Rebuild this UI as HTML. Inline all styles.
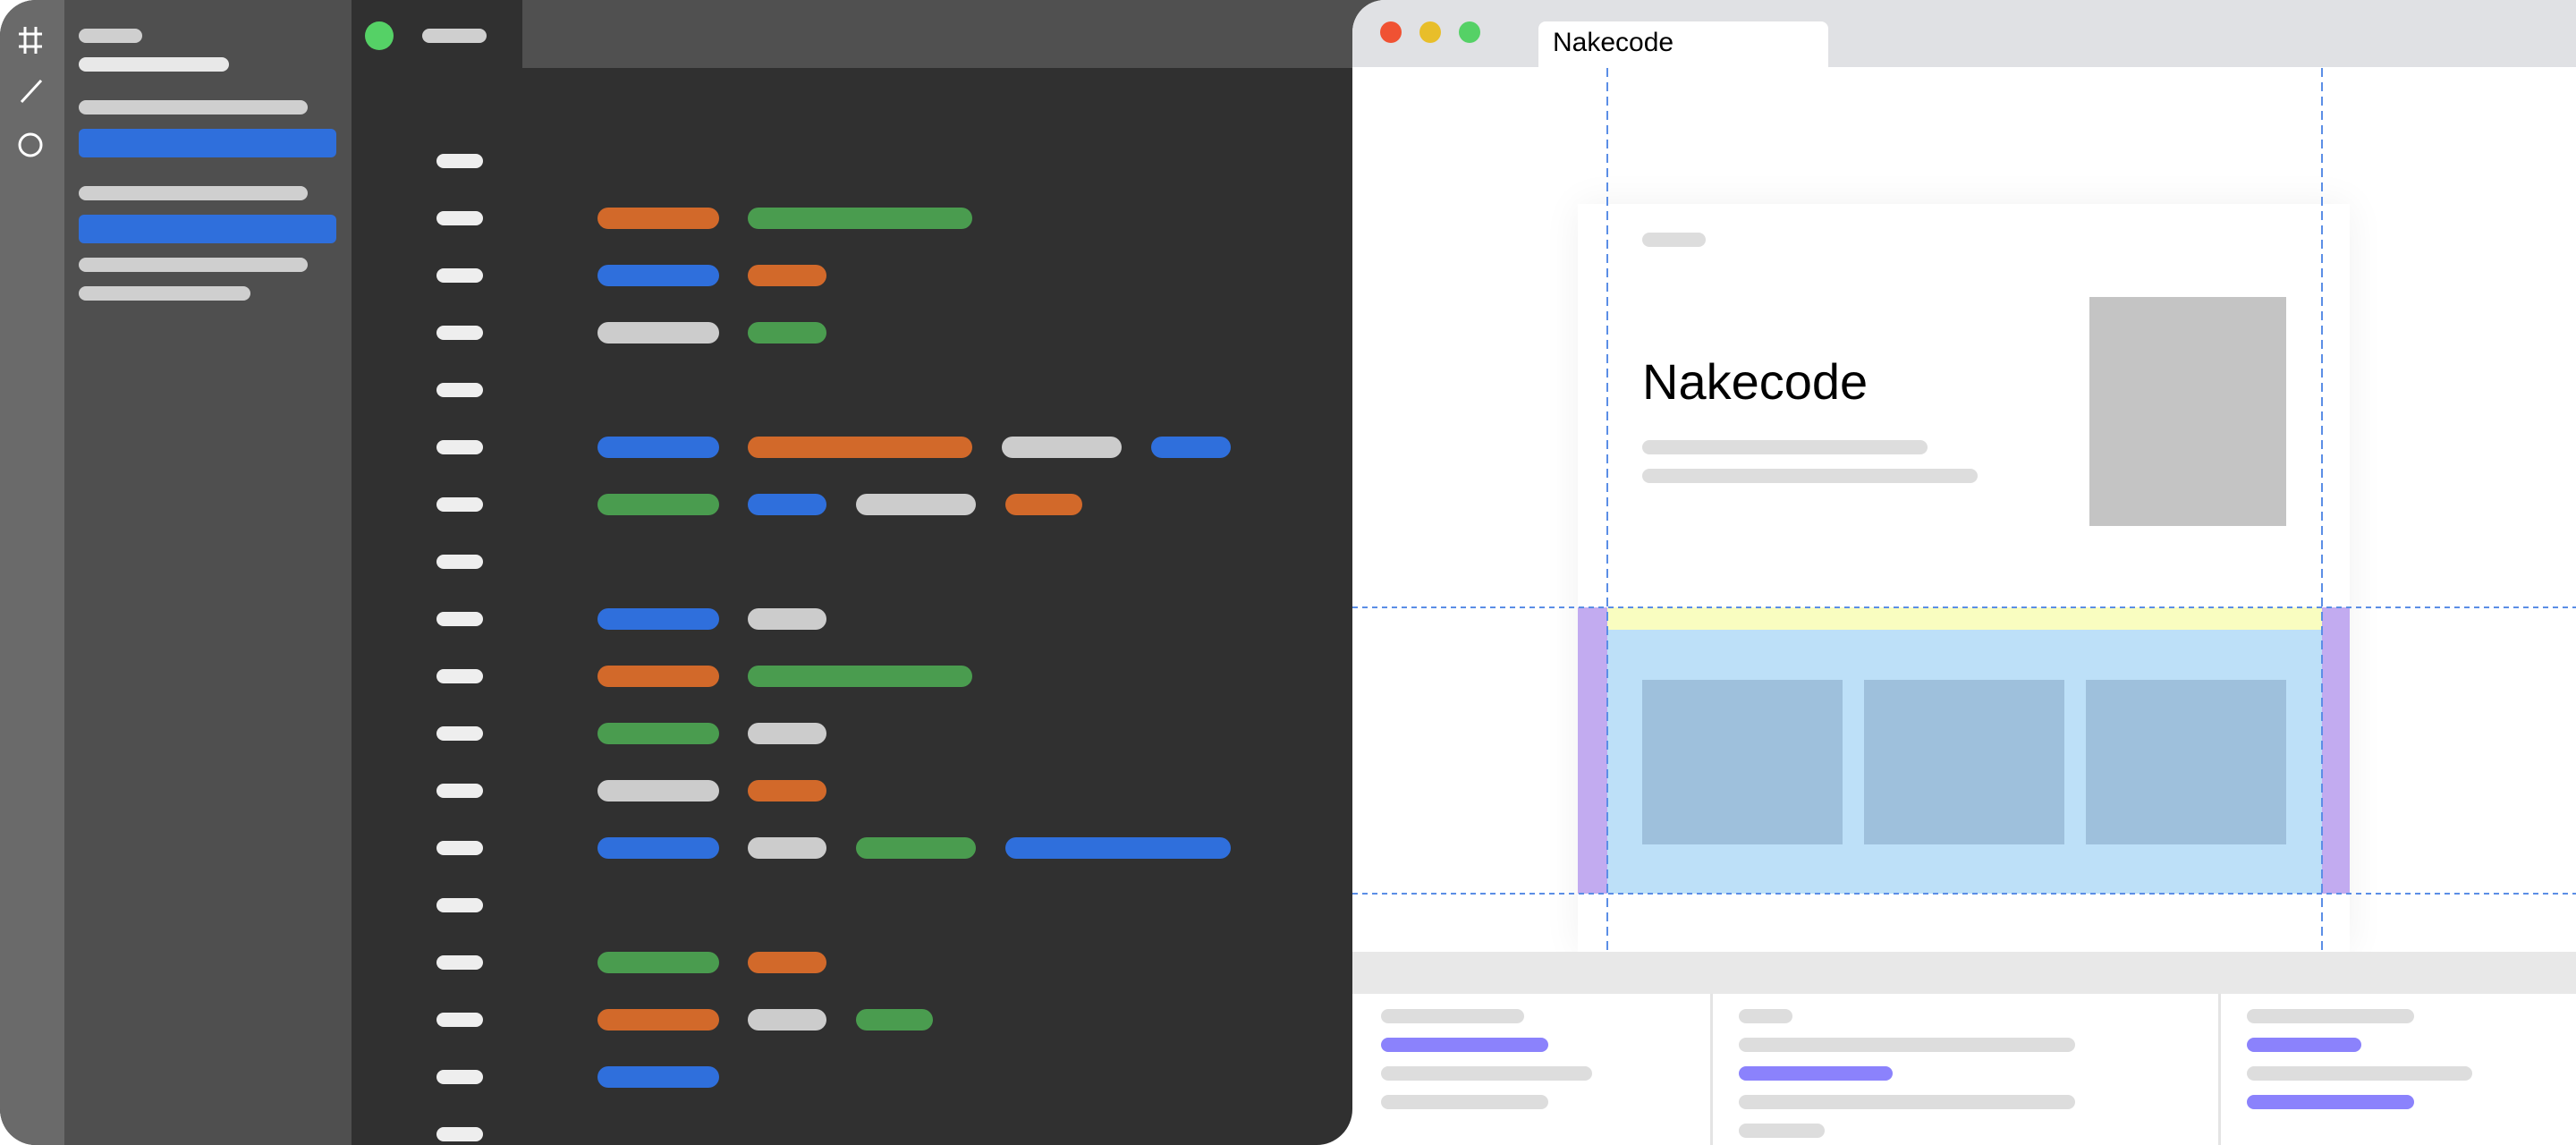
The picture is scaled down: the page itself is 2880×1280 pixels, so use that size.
<!DOCTYPE html>
<html><head><meta charset="utf-8"><style>
*{margin:0;padding:0;box-sizing:border-box}
body{width:2880px;height:1280px;position:relative;overflow:hidden;background:#fff;font-family:"Liberation Sans",sans-serif}
div{position:absolute}
.p{height:16px;border-radius:8px}
.t{height:24px;border-radius:12px}
.ln{left:488px;width:52px;height:16px;border-radius:8px;background:#eee}
.o{background:#d2692a}.g{background:#4a9c4f}.b{background:#2f6fdc}.y{background:#cccccc}
.q{background:#dddddd}.v{background:#8b82fc}
</style></head><body>
<!-- left editor -->
<div style="left:1500px;top:0;width:60px;height:40px;background:#505050"></div>
<div style="left:0;top:0;width:1512px;height:1280px;background:#303030;border-radius:40px 0 40px 40px;overflow:hidden">
  <div style="left:0;top:0;width:72px;height:1280px;background:#6a6a6a"></div>
  <div style="left:72px;top:0;width:321px;height:1280px;background:#4f4f4f"></div>
  <div style="left:584px;top:0;width:1000px;height:76px;background:#505050"></div>
</div>
<!-- icons -->
<svg style="position:absolute;left:0;top:0" width="72" height="200">
  <g stroke="#fff" stroke-width="3" fill="none">
    <line x1="28" y1="30" x2="28" y2="60"/><line x1="40" y1="30" x2="40" y2="60"/>
    <line x1="21" y1="38" x2="47" y2="38"/><line x1="21" y1="52" x2="47" y2="52"/>
    <line x1="24" y1="114" x2="46" y2="90"/>
    <circle cx="34" cy="162" r="12"/>
  </g>
</svg>
<div class="p" style="left:88px;top:32px;width:71px;background:#cfcfcf"></div>
<div class="p" style="left:88px;top:64px;width:168px;background:#e8e8e8"></div>
<div class="p" style="left:88px;top:112px;width:256px;background:#cfcfcf"></div>
<div style="left:88px;top:144px;width:288px;height:32px;border-radius:6px;background:#2f6fdc"></div>
<div class="p" style="left:88px;top:208px;width:256px;background:#cfcfcf"></div>
<div style="left:88px;top:240px;width:288px;height:32px;border-radius:6px;background:#2f6fdc"></div>
<div class="p" style="left:88px;top:288px;width:256px;background:#cfcfcf"></div>
<div class="p" style="left:88px;top:320px;width:192px;background:#cfcfcf"></div>
<div style="left:408px;top:24px;width:32px;height:32px;border-radius:50%;background:#55d166"></div>
<div class="p" style="left:472px;top:32px;width:72px;background:#cfcfcf"></div>
<!-- line numbers -->
<div class="ln" style="top:172px"></div><div class="ln" style="top:236px"></div><div class="ln" style="top:300px"></div>
<div class="ln" style="top:364px"></div><div class="ln" style="top:428px"></div><div class="ln" style="top:492px"></div>
<div class="ln" style="top:556px"></div><div class="ln" style="top:620px"></div><div class="ln" style="top:684px"></div>
<div class="ln" style="top:748px"></div><div class="ln" style="top:812px"></div><div class="ln" style="top:876px"></div>
<div class="ln" style="top:940px"></div><div class="ln" style="top:1004px"></div><div class="ln" style="top:1068px"></div>
<div class="ln" style="top:1132px"></div><div class="ln" style="top:1196px"></div><div class="ln" style="top:1260px"></div>
<!-- tokens -->
<div class="t o" style="left:668px;top:232px;width:136px"></div><div class="t g" style="left:836px;top:232px;width:251px"></div>
<div class="t b" style="left:668px;top:296px;width:136px"></div><div class="t o" style="left:836px;top:296px;width:88px"></div>
<div class="t y" style="left:668px;top:360px;width:136px"></div><div class="t g" style="left:836px;top:360px;width:88px"></div>
<div class="t b" style="left:668px;top:488px;width:136px"></div><div class="t o" style="left:836px;top:488px;width:251px"></div><div class="t y" style="left:1120px;top:488px;width:134px"></div><div class="t b" style="left:1287px;top:488px;width:89px"></div>
<div class="t g" style="left:668px;top:552px;width:136px"></div><div class="t b" style="left:836px;top:552px;width:88px"></div><div class="t y" style="left:957px;top:552px;width:134px"></div><div class="t o" style="left:1124px;top:552px;width:86px"></div>
<div class="t b" style="left:668px;top:680px;width:136px"></div><div class="t y" style="left:836px;top:680px;width:88px"></div>
<div class="t o" style="left:668px;top:744px;width:136px"></div><div class="t g" style="left:836px;top:744px;width:251px"></div>
<div class="t g" style="left:668px;top:808px;width:136px"></div><div class="t y" style="left:836px;top:808px;width:88px"></div>
<div class="t y" style="left:668px;top:872px;width:136px"></div><div class="t o" style="left:836px;top:872px;width:88px"></div>
<div class="t b" style="left:668px;top:936px;width:136px"></div><div class="t y" style="left:836px;top:936px;width:88px"></div><div class="t g" style="left:957px;top:936px;width:134px"></div><div class="t b" style="left:1124px;top:936px;width:252px"></div>
<div class="t g" style="left:668px;top:1064px;width:136px"></div><div class="t o" style="left:836px;top:1064px;width:88px"></div>
<div class="t o" style="left:668px;top:1128px;width:136px"></div><div class="t y" style="left:836px;top:1128px;width:88px"></div><div class="t g" style="left:957px;top:1128px;width:86px"></div>
<div class="t b" style="left:668px;top:1192px;width:136px"></div>
<!-- browser -->
<div style="left:1512px;top:0;width:1400px;height:1280px;background:#fff;border-radius:36px 0 0 0;overflow:hidden">
  <div style="left:0;top:0;width:1400px;height:75px;background:#e0e1e4"></div>
</div>
<div style="left:1543px;top:24px;width:24px;height:24px;border-radius:50%;background:#f05233"></div>
<div style="left:1587px;top:24px;width:24px;height:24px;border-radius:50%;background:#e8be2a"></div>
<div style="left:1631px;top:24px;width:24px;height:24px;border-radius:50%;background:#55d166"></div>
<div style="left:1720px;top:24px;width:324px;height:52px;background:#fff;border-radius:8px 8px 0 0"></div>
<div style="left:1736px;top:30px;font-size:30px;line-height:36px;color:#000">Nakecode</div>
<!-- card -->
<div style="left:1764px;top:228px;width:863px;height:836px;background:#fff;box-shadow:0 0 40px rgba(0,0,0,0.06)"></div>
<div class="p" style="left:1836px;top:260px;width:71px;background:#dddddd"></div>
<div style="left:1836px;top:392px;font-size:56px;line-height:70px;color:#000">Nakecode</div>
<div class="p" style="left:1836px;top:492px;width:319px;background:#dddddd"></div>
<div class="p" style="left:1836px;top:524px;width:375px;background:#dddddd"></div>
<div style="left:2336px;top:332px;width:220px;height:256px;background:#c4c4c4"></div>
<div style="left:1764px;top:679px;width:33px;height:320px;background:#c2abf0"></div>
<div style="left:2596px;top:679px;width:31px;height:320px;background:#c2abf0"></div>
<div style="left:1797px;top:679px;width:799px;height:25px;background:#f9fdc0"></div>
<div style="left:1797px;top:704px;width:799px;height:295px;background:#bde0f8"></div>
<div style="left:1836px;top:760px;width:224px;height:184px;background:#9ec0dc"></div>
<div style="left:2084px;top:760px;width:224px;height:184px;background:#9ec0dc"></div>
<div style="left:2332px;top:760px;width:224px;height:184px;background:#9ec0dc"></div>
<!-- dashed guides -->
<svg style="position:absolute;left:0;top:0" width="2880" height="1280">
  <g stroke="#5b8ee6" stroke-width="2" stroke-dasharray="10 6">
    <line x1="1797" y1="76" x2="1797" y2="1068"/>
    <line x1="2596" y1="76" x2="2596" y2="1068"/>
  </g>
  <g stroke="#5b8ee6" stroke-width="2" stroke-dasharray="6 5">
    <line x1="1512" y1="679" x2="2880" y2="679"/>
    <line x1="1512" y1="999" x2="2880" y2="999"/>
  </g>
</svg>
<!-- bottom panel -->
<div style="left:1512px;top:1064px;width:1368px;height:47px;background:#e8e8e8"></div>
<div style="left:1912px;top:1111px;width:3px;height:169px;background:#e4e4e4"></div>
<div style="left:2480px;top:1111px;width:3px;height:169px;background:#e4e4e4"></div>
<div class="p q" style="left:1544px;top:1128px;width:160px"></div>
<div class="p v" style="left:1544px;top:1160px;width:187px"></div>
<div class="p q" style="left:1544px;top:1192px;width:236px"></div>
<div class="p q" style="left:1544px;top:1224px;width:187px"></div>
<div class="p q" style="left:1944px;top:1128px;width:60px"></div>
<div class="p q" style="left:1944px;top:1160px;width:376px"></div>
<div class="p v" style="left:1944px;top:1192px;width:172px"></div>
<div class="p q" style="left:1944px;top:1224px;width:376px"></div>
<div class="p q" style="left:1944px;top:1256px;width:96px"></div>
<div class="p q" style="left:2512px;top:1128px;width:187px"></div>
<div class="p v" style="left:2512px;top:1160px;width:128px"></div>
<div class="p q" style="left:2512px;top:1192px;width:252px"></div>
<div class="p v" style="left:2512px;top:1224px;width:187px"></div>
</body></html>
